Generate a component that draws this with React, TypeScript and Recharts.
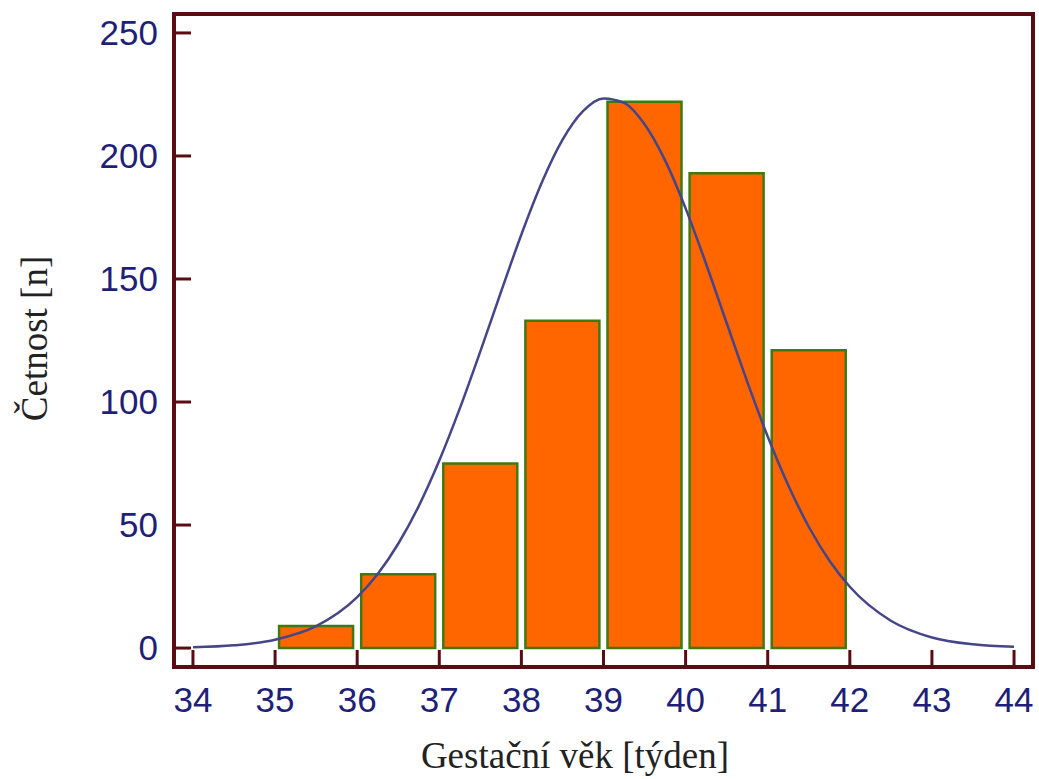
import React from 'react';
import { ComposedChart, Bar, Line, XAxis, YAxis, Label, ReferenceArea } from 'recharts';

// Histogram: week-bin centres and counts
const binCentres = [35.5, 36.5, 37.5, 38.5, 39.5, 40.5, 41.5];
const binCounts = [9, 30, 75, 133, 222, 193, 121];

// Fitted normal curve
const curveWeeks = [34, 34.5, 35, 35.5, 36, 36.25, 36.5, 36.75, 37, 37.25, 37.5, 37.75, 38, 38.25, 38.5, 38.75, 39, 39.25, 39.5, 39.75, 40, 40.25, 40.5, 40.75, 41, 41.25, 41.5, 41.75, 42, 42.5, 43, 43.5, 44];
const curveValues = [0.3, 1.1, 3.4, 8.9, 20.7, 30.1, 42.4, 57.7, 76.2, 97.4, 120.6, 144.6, 168.1, 189.3, 206.5, 218.2, 223.4, 221.6, 212.9, 198.2, 178.7, 156.1, 132.1, 108.3, 86.0, 66.2, 49.3, 35.6, 24.9, 11.1, 4.3, 1.5, 0.5];

const xTicks = [34, 35, 36, 37, 38, 39, 40, 41, 42, 43, 44];
const yTicks = [0, 50, 100, 150, 200, 250];

const xDomain = [33.769, 44.231];
const yDomain = [-7.7, 257.7];

const barData = binCentres.map((w, i) => ({ week: w, count: binCounts[i] }));
const curveData = curveWeeks.map((w, i) => ({ x: w, y: curveValues[i] }));

const FRAME = '#5a0c12';
const NAVY = '#1f1f78';
const TICK_LEN = 17;
const X_MARGIN = 20;
const Y_MARGIN = 16;

const tickFont = { fontFamily: '"Liberation Sans", Arial, sans-serif', fontSize: 35, fill: NAVY };
const labelFont = { fontFamily: '"Liberation Serif", "Times New Roman", serif', fontSize: 37, fill: '#222' };

const XTick = (props: any) => {
  const { x, y, payload } = props;
  const axisY = y - X_MARGIN;
  return (
    <g>
      <line x1={x} x2={x} y1={axisY} y2={axisY - TICK_LEN} stroke={FRAME} strokeWidth={3} />
      <text x={x} y={y} dy="0.71em" textAnchor="middle" {...tickFont}>
        {payload.value}
      </text>
    </g>
  );
};

const YTick = (props: any) => {
  const { x, y, payload } = props;
  const axisX = x + Y_MARGIN;
  return (
    <g>
      <line x1={axisX} x2={axisX + TICK_LEN} y1={y} y2={y} stroke={FRAME} strokeWidth={3} />
      <text x={x} y={y} dy="0.355em" textAnchor="end" {...tickFont}>
        {payload.value}
      </text>
    </g>
  );
};

const YTitle = (props: any) => {
  const vb = props.viewBox || { x: 0, y: 14, width: 174, height: 653 };
  const x = vb.x + 47;
  const y = vb.y + vb.height / 2 - 2;
  return (
    <text x={x} y={y} transform={`rotate(-90, ${x}, ${y})`} textAnchor="middle" {...labelFont}>
      Četnost [n]
    </text>
  );
};

const XTitle = (props: any) => {
  const vb = props.viewBox || { x: 174, y: 667, width: 859, height: 112 };
  const x = vb.x + 401;
  const y = vb.y + 101;
  return (
    <text x={x} y={y} textAnchor="middle" {...labelFont}>
      Gestační věk [týden]
    </text>
  );
};

export default function App() {
  return (
    <div style={{ position: 'absolute', left: 0, top: 0, width: 1039, height: 779, background: '#fff' }}>
      <ComposedChart
        width={1039}
        height={779}
        data={barData}
        margin={{ top: 14, right: 6, bottom: 0, left: 0 }}
      >
        <XAxis
          xAxisId="bins"
          dataKey="week"
          type="number"
          domain={xDomain}
          allowDataOverflow
          ticks={xTicks}
          interval={0}
          height={112}
          tickSize={0}
          tickMargin={X_MARGIN}
          tick={<XTick />}
          tickLine={false}
          axisLine={false}
        >
          <Label content={<XTitle />} />
        </XAxis>
        <XAxis
          xAxisId="curve"
          dataKey="x"
          type="number"
          domain={xDomain}
          allowDataOverflow
          hide
        />
        <YAxis
          yAxisId="count"
          type="number"
          domain={yDomain}
          allowDataOverflow
          ticks={yTicks}
          interval={0}
          width={174}
          tickSize={0}
          tickMargin={Y_MARGIN}
          tick={<YTick />}
          tickLine={false}
          axisLine={false}
        >
          <Label content={<YTitle />} />
        </YAxis>
        <Bar
          xAxisId="bins"
          yAxisId="count"
          dataKey="count"
          barSize={74}
          fill="#ff6600"
          stroke="#3f7a10"
          strokeWidth={2.5}
          isAnimationActive={false}
        />
        <Line
          xAxisId="curve"
          yAxisId="count"
          data={curveData}
          dataKey="y"
          type="monotone"
          stroke="#45458a"
          strokeWidth={2.5}
          dot={false}
          activeDot={false}
          isAnimationActive={false}
        />
        <ReferenceArea
          xAxisId="bins"
          yAxisId="count"
          x1={xDomain[0]}
          x2={xDomain[1]}
          y1={yDomain[0]}
          y2={yDomain[1]}
          fill="none"
          fillOpacity={0}
          stroke={FRAME}
          strokeWidth={4}
          ifOverflow="visible"
        />
      </ComposedChart>
    </div>
  );
}
